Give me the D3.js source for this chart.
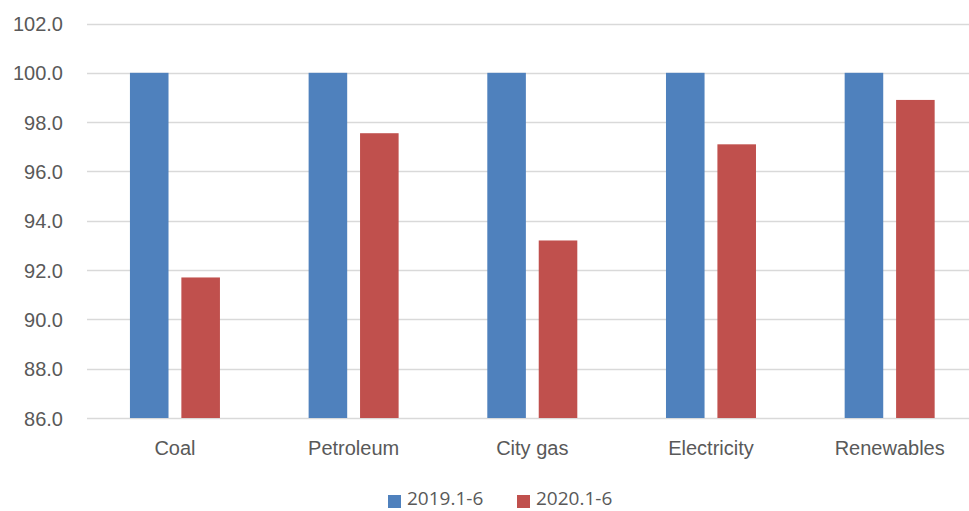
<!DOCTYPE html>
<html>
<head>
<meta charset="utf-8">
<script src="https://cdn.jsdelivr.net/npm/d3@7/dist/d3.min.js"></script>
<style>
  html, body { margin: 0; padding: 0; background: #fff; }
  svg { display: block; font-family: "Open Sans", "Noto Sans", sans-serif; }
</style>
</head>
<body>
<svg id="chart" width="969" height="511"></svg>
<script>
// Energy consumption index, Jan–Jun (2019 = 100)
const categories = ["Coal", "Petroleum", "City gas", "Electricity", "Renewables"];
const seriesNames = ["2019.1-6", "2020.1-6"];
const values2019 = [100.0, 100.0, 100.0, 100.0, 100.0];
const values2020 = [91.7, 97.55, 93.2, 97.1, 98.9];
const yTicks = [86, 88, 90, 92, 94, 96, 98, 100, 102];
const colors = ["#4f81bd", "#c0504d"];

const W = 969, H = 511;
const svg = d3.select("#chart");

const x0 = d3.scaleBand().domain(categories).range([85.6, 979]).paddingInner(0).paddingOuter(0);
const x1 = d3.scaleBand().domain(seriesNames).range([-45, 45]).paddingInner(0.25).paddingOuter(0);
const y = d3.scaleLinear().domain([86, 102]).range([418, 23.5]);

// Gridlines
svg.append("g")
  .selectAll("line")
  .data(yTicks)
  .join("line")
  .attr("x1", 87).attr("x2", W)
  .attr("y1", d => Math.round(y(d)) + 0.5)
  .attr("y2", d => Math.round(y(d)) + 0.5)
  .attr("stroke", "#d9d9d9")
  .attr("stroke-width", 1.3);

// Y axis labels
const yAxis = d3.axisLeft(y).tickValues(yTicks).tickFormat(d3.format(".1f")).tickSize(0).tickPadding(0);
const gy = svg.append("g").attr("transform", "translate(63,0)").call(yAxis);
gy.select(".domain").remove();
gy.selectAll("text").attr("fill", "#595959").style("font-size", "20px").attr("dy", "0.35em");

// Bars
const series = [values2019, values2020];
const groups = svg.append("g").selectAll("g")
  .data(categories)
  .join("g")
  .attr("transform", d => `translate(${x0(d) + x0.bandwidth() / 2},0)`);

groups.selectAll("rect")
  .data((d, i) => seriesNames.map((s, k) => ({ s, v: series[k][i], k })))
  .join("rect")
  .attr("x", d => x1(d.s))
  .attr("width", x1.bandwidth())
  .attr("y", d => y(d.v))
  .attr("height", d => y(86) - y(d.v))
  .attr("fill", d => colors[d.k]);

// X axis category labels
const xAxis = d3.axisBottom(x0).tickSize(0).tickPadding(0);
const gx = svg.append("g").attr("transform", "translate(0,448)").call(xAxis);
gx.select(".domain").remove();
gx.selectAll("text").attr("fill", "#595959").style("font-size", "20px").attr("dy", "0.35em");

// Legend
const legendItems = [
  { name: seriesNames[0], color: colors[0], x: 388 },
  { name: seriesNames[1], color: colors[1], x: 517 }
];
const lg = svg.append("g").selectAll("g").data(legendItems).join("g")
  .attr("transform", d => `translate(${d.x},0)`);
lg.append("rect").attr("x", 0).attr("y", 495).attr("width", 13).attr("height", 13).attr("fill", d => d.color);
lg.append("text").attr("x", 19).attr("y", 504.5).attr("fill", "#595959")
  .style("font-size", "19px").text(d => d.name);
</script>
</body>
</html>
